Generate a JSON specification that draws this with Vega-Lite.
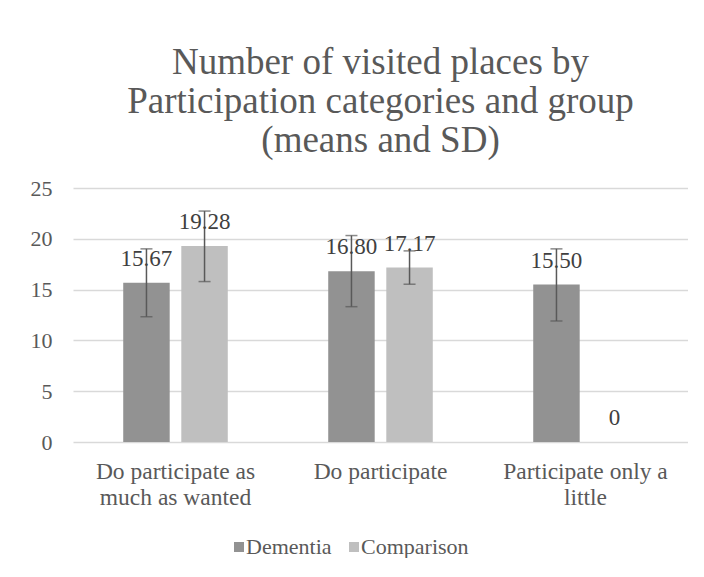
{
  "$schema": "https://vega.github.io/schema/vega-lite/v6.json",
  "width": 615,
  "height": 254,
  "padding": {"left": 30, "top": 44, "right": 0, "bottom": 0},
  "background": "white",
  "config": {
    "font": "Liberation Serif, Times New Roman, serif",
    "view": {"stroke": null},
    "text": {"font": "Liberation Serif, Times New Roman, serif"},
    "axis": {"labelFont": "Liberation Serif, Times New Roman, serif", "labelColor": "#595959", "labelFontSize": 22},
    "legend": {"labelFont": "Liberation Serif, Times New Roman, serif"},
    "title": {"font": "Liberation Serif, Times New Roman, serif"}
  },
  "title": {
    "text": ["Number of visited places by", "Participation categories and group", "(means and SD)"],
    "font": "Liberation Serif, Times New Roman, serif",
    "fontSize": 37,
    "fontWeight": "normal",
    "color": "#595959",
    "lineHeight": 39,
    "anchor": "middle",
    "offset": 17
  },
  "data": {
    "values": [
      {"category": "Do participate as much as wanted", "group": "Dementia", "mean": 15.67, "low": 12.33, "high": 19.01, "label": "15.67"},
      {"category": "Do participate as much as wanted", "group": "Comparison", "mean": 19.28, "low": 15.79, "high": 22.73, "label": "19.28"},
      {"category": "Do participate", "group": "Dementia", "mean": 16.80, "low": 13.32, "high": 20.32, "label": "16.80"},
      {"category": "Do participate", "group": "Comparison", "mean": 17.17, "low": 15.53, "high": 18.81, "label": "17.17"},
      {"category": "Participate only a little", "group": "Dementia", "mean": 15.50, "low": 11.91, "high": 19.01, "label": "15.50"},
      {"category": "Participate only a little", "group": "Comparison", "mean": 0, "low": null, "high": null, "label": "0"}
    ]
  },
  "encoding": {
    "x": {
      "field": "category",
      "type": "nominal",
      "sort": null,
      "scale": {"paddingInner": 0.49, "paddingOuter": 0.245},
      "axis": {
        "title": null,
        "labelAngle": 0,
        "domain": false,
        "ticks": false,
        "tickSize": 0,
        "labelPadding": 17,
        "labelBaseline": "top",
        "labelFontSize": 23.5,
        "labelLineHeight": 26,
        "labelLimit": 300,
        "labelExpr": "datum.value == 'Do participate as much as wanted' ? ['Do participate as', 'much as wanted'] : datum.value == 'Participate only a little' ? ['Participate only a', 'little'] : datum.value"
      }
    },
    "xOffset": {
      "field": "group",
      "type": "nominal",
      "sort": ["Dementia", "Comparison"],
      "scale": {"paddingInner": 0.2, "paddingOuter": 0}
    }
  },
  "layer": [
    {
      "mark": {"type": "bar"},
      "encoding": {
        "y": {
          "field": "mean",
          "type": "quantitative",
          "scale": {"domain": [0, 25], "nice": false},
          "axis": {
            "title": null,
            "values": [0, 5, 10, 15, 20, 25],
            "domain": false,
            "ticks": false,
            "tickSize": 0,
            "labelPadding": 21,
            "gridColor": "#d9d9d9",
            "gridWidth": 1.5
          }
        },
        "color": {
          "field": "group",
          "type": "nominal",
          "sort": ["Dementia", "Comparison"],
          "scale": {"domain": ["Dementia", "Comparison"], "range": ["#929292", "#bfbfbf"]},
          "legend": {
            "title": null,
            "orient": "none",
            "direction": "horizontal",
            "legendX": 155,
            "legendY": 348,
            "symbolType": "square",
            "symbolSize": 100,
            "symbolStrokeWidth": 0,
            "labelFontSize": 22,
            "labelColor": "#595959",
            "labelOffset": -4,
            "columnPadding": 11
          }
        }
      }
    },
    {
      "mark": {"type": "rule", "color": "#595959", "strokeWidth": 1.5},
      "encoding": {
        "y": {"field": "low", "type": "quantitative"},
        "y2": {"field": "high"}
      }
    },
    {
      "mark": {"type": "tick", "color": "#595959", "thickness": 1.5, "size": 12, "orient": "horizontal"},
      "encoding": {
        "y": {"field": "low", "type": "quantitative"}
      }
    },
    {
      "mark": {"type": "tick", "color": "#595959", "thickness": 1.5, "size": 12, "orient": "horizontal"},
      "encoding": {
        "y": {"field": "high", "type": "quantitative"}
      }
    },
    {
      "mark": {"type": "text", "dy": -17, "baseline": "alphabetic", "fontSize": 23, "color": "#404040"},
      "encoding": {
        "y": {"field": "mean", "type": "quantitative"},
        "text": {"field": "label"}
      }
    }
  ]
}
